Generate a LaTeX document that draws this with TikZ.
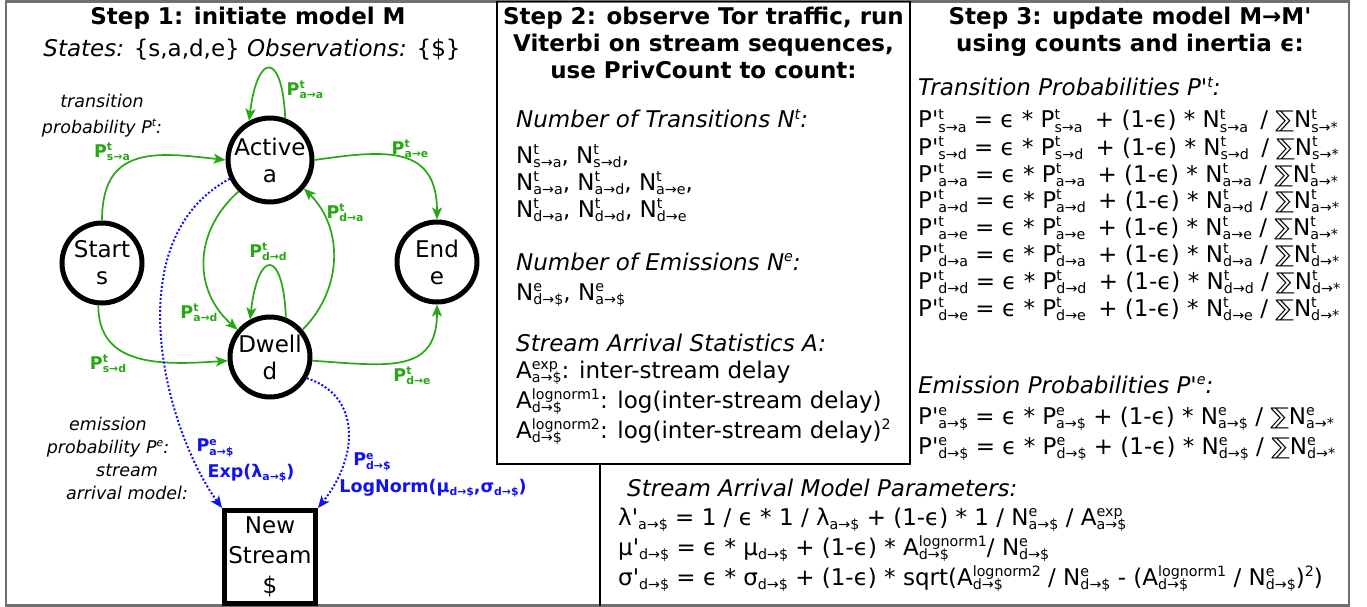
\documentclass[tikz,border=0pt]{standalone}
\usepackage{fontspec}
\setmainfont{DejaVu Sans}
\usetikzlibrary{arrows.meta}
\definecolor{grn}{RGB}{38,168,18}
\definecolor{blu}{RGB}{18,18,238}
\definecolor{frm}{RGB}{112,112,112}
\newcommand\pq{\textquotesingle}
\makeatletter
\newcommand\scrfont{\fontsize{\fpeval{0.62*\f@size}}{1}\selectfont}
% base with stacked superscript and subscript
\newcommand\tss[3]{#1\begingroup\dimen4=.36em\dimen6=.21em\scrfont
  \setbox0\hbox{#2}\setbox2\hbox{#3}%
  \dimen0=\wd0 \ifdim\wd2>\dimen0 \dimen0=\wd2\fi
  \rlap{\raise\dimen4\box0}\rlap{\lower\dimen6\box2}\kern\dimen0\endgroup}
% base with subscript only
\newcommand\tsb[2]{#1\begingroup\dimen6=.21em\scrfont\lower\dimen6\hbox{#2}\endgroup}
% base with superscript only
\newcommand\tsp[2]{#1\begingroup\dimen4=.36em\scrfont\raise\dimen4\hbox{#2}\endgroup}
\makeatother
\newcommand\dsum{⅀}
\tikzset{
  st/.style={circle,draw,line width=5pt,minimum size=80pt,inner sep=0pt,align=center,font=\fontsize{23}{27}\selectfont},
  sq/.style={rectangle,draw,line width=5pt,minimum width=91pt,minimum height=93pt,inner sep=0pt,align=center,font=\fontsize{23}{30}\selectfont},
  tr/.style={draw=grn,line width=1.7pt,-{Stealth[length=12pt,width=10pt,inset=3pt]}},
  em/.style={draw=blu,line width=2pt,dash pattern=on 2pt off 2pt,-{Stealth[length=12pt,width=10pt,inset=3pt]}},
  gl/.style={text=grn,inner sep=0pt,font=\bfseries\fontsize{17.5}{20}\selectfont},
  bl/.style={text=blu,inner sep=0pt,font=\bfseries\fontsize{17.5}{20}\selectfont},
  ttl/.style={anchor=base,inner sep=0pt,font=\bfseries\fontsize{23}{27}\selectfont},
  tx/.style={anchor=base west,inner sep=0pt,font=\fontsize{23}{27}\selectfont},
  nt/.style={anchor=base,inner sep=0pt,font=\itshape\fontsize{17.5}{21}\selectfont},
}
\begin{document}
\begin{tikzpicture}[x=1pt,y=-1pt]
\useasboundingbox (0,0) rectangle (1367,607);
% frames
\draw[frm,line width=2.5pt] (6,1.5) rectangle (1349,605.5);
\draw[black,line width=1.2pt] (497,1.5) rectangle (910,464);
\draw[black,line width=1.2pt] (600,464) -- (600,605.5);
% ---------- left panel
\node[ttl] (t1) at (248,25) {Step 1: initiate model M};
\node[tx,anchor=base] (t2) at (252,57) {\textit{States:} \{s,a,d,e\} \textit{Observations:} \{\$\}};
\node[nt] (tp1) at (102,108) {transition};
\node[nt] (tp2) at (102,133) {probability \tsp{P}{t}:};
\node[nt] (ep1) at (108,430) {emission};
\node[nt] (ep2) at (108,453) {probability \tsp{P}{e}:};
\node[nt] (ep3) at (127,476) {stream};
\node[nt] (ep4) at (127,499) {arrival model:};

\node[st] (S) at (102,263) {Start\\s};
\node[st] (A) at (270,160) {Active\\a};
\node[st] (E) at (437,262) {End\\e};
\node[st] (D) at (270,357) {Dwell\\d};
\node[sq] (NS) at (270,557) {New\\Stream\\\$};

\draw[tr] (S.north) .. controls +(0,-75) and +(-70,-8) .. (A.west);
\draw[tr] (A.70) .. controls +(-3,-68) and +(8,-68) .. (A.118);
\draw[tr] (A.east) .. controls +(70,-10) and +(0,-75) .. (E.north);
\draw[tr] (A.225) .. controls +(-45,40) and +(-45,-40) .. (D.140);
\draw[tr] (D.40) .. controls +(40,-40) and +(40,40) .. (A.320);
\draw[tr] (D.68) .. controls +(-3,-70) and +(8,-70) .. (D.118);
\draw[tr] (S.265) .. controls +(0,60) and +(-70,5) .. (D.185);
\draw[tr] (D.355) .. controls +(75,5) and +(0,70) .. (E.south);
\draw[em] (A.205) .. controls (115,240) and (165,430) .. (NS.north west);
\draw[em] (D.330) .. controls (360,395) and (360,455) .. (NS.north east);

\node[gl] (l1) at (112,152) {\tss{P}{t}{s→a}};
\node[gl] (l2) at (305,90) {\tss{P}{t}{a→a}};
\node[gl] (l3) at (410,149) {\tss{P}{t}{a→e}};
\node[gl] (l4) at (199,313) {\tss{P}{t}{a→d}};
\node[gl] (l5) at (345,213) {\tss{P}{t}{d→a}};
\node[gl] (l6) at (268,252) {\tss{P}{t}{d→d}};
\node[gl] (l7) at (108,364) {\tss{P}{t}{s→d}};
\node[gl] (l8) at (412,376) {\tss{P}{t}{d→e}};
\node[bl] (b1) at (215,448) {\tss{P}{e}{a→\$}};
\node[bl] (b2) at (251,473) {Exp(\tsb{λ}{a→\$})};
\node[bl] (b3) at (372,462) {\tss{P}{e}{d→\$}};
\node[bl] (b4) at (433,488) {LogNorm(\tsb{μ}{d→\$},\tsb{σ}{d→\$})};
% ---------- middle panel
\node[ttl] (m1) at (703.5,25) {Step 2: observe Tor traffic, run};
\node[ttl] (m2) at (703.5,52) {Viterbi on stream sequences,};
\node[ttl] (m3) at (703.5,79) {use PrivCount to count:};
\node[tx] (m4) at (516,128) {\textit{Number of Transitions \tsp{N}{t}:}};
\node[tx] (m5) at (516,163) {\tss{N}{t}{s→a}, \tss{N}{t}{s→d},};
\node[tx] (m6) at (516,190) {\tss{N}{t}{a→a}, \tss{N}{t}{a→d}, \tss{N}{t}{a→e},};
\node[tx] (m7) at (516,217) {\tss{N}{t}{d→a}, \tss{N}{t}{d→d}, \tss{N}{t}{d→e}};
\node[tx] (m8) at (516,270) {\textit{Number of Emissions \tsp{N}{e}:}};
\node[tx] (m9) at (516,300) {\tss{N}{e}{d→\$}, \tss{N}{e}{a→\$}};
\node[tx] (m10) at (516,351) {\textit{Stream Arrival Statistics A:}};
\node[tx] (m11) at (516,378) {\tss{A}{exp}{a→\$}: inter-stream delay};
\node[tx] (m12) at (516,408) {\tss{A}{lognorm1}{d→\$}: log(inter-stream delay)};
\node[tx] (m13) at (516,438) {\tss{A}{lognorm2}{d→\$}: log(inter-stream delay)\tsp{}{2}};
% ---------- right panel
\node[ttl] (r1) at (1130,25) {Step 3: update model M→M\pq};
\node[ttl] (r2) at (1130,52) {using counts and inertia ϵ:};
\node[tx] (r3) at (918,96) {\textit{Transition Probabilities \tsp{P\pq}{t}:}};
\node[tx] (r4) at (918,128) {\tss{P\pq}{t}{s→a} = ϵ * \tss{P}{t}{s→a}\hspace{5pt} + (1-ϵ) * \tss{N}{t}{s→a}\hspace{5pt} / \dsum\tss{N}{t}{s→*}};
\node[tx] (r5) at (918,155) {\tss{P\pq}{t}{s→d} = ϵ * \tss{P}{t}{s→d}\hspace{5pt} + (1-ϵ) * \tss{N}{t}{s→d}\hspace{5pt} / \dsum\tss{N}{t}{s→*}};
\node[tx] (r6) at (918,182) {\tss{P\pq}{t}{a→a} = ϵ * \tss{P}{t}{a→a}\hspace{5pt} + (1-ϵ) * \tss{N}{t}{a→a} / \dsum\tss{N}{t}{a→*}};
\node[tx] (r7) at (918,208) {\tss{P\pq}{t}{a→d} = ϵ * \tss{P}{t}{a→d}\hspace{5pt} + (1-ϵ) * \tss{N}{t}{a→d} / \dsum\tss{N}{t}{a→*}};
\node[tx] (r8) at (918,235) {\tss{P\pq}{t}{a→e} = ϵ * \tss{P}{t}{a→e}\hspace{5pt} + (1-ϵ) * \tss{N}{t}{a→e} / \dsum\tss{N}{t}{a→*}};
\node[tx] (r9) at (918,262) {\tss{P\pq}{t}{d→a} = ϵ * \tss{P}{t}{d→a}\hspace{5pt} + (1-ϵ) * \tss{N}{t}{d→a} / \dsum\tss{N}{t}{d→*}};
\node[tx] (r10) at (918,289) {\tss{P\pq}{t}{d→d} = ϵ * \tss{P}{t}{d→d}\hspace{5pt} + (1-ϵ) * \tss{N}{t}{d→d} / \dsum\tss{N}{t}{d→*}};
\node[tx] (r11) at (918,316) {\tss{P\pq}{t}{d→e} = ϵ * \tss{P}{t}{d→e}\hspace{5pt} + (1-ϵ) * \tss{N}{t}{d→e} / \dsum\tss{N}{t}{d→*}};
\node[tx] (r12) at (918,393) {\textit{Emission Probabilities \tsp{P\pq}{e}:}};
\node[tx] (r13) at (918,424) {\tss{P\pq}{e}{a→\$} = ϵ * \tss{P}{e}{a→\$} + (1-ϵ) * \tss{N}{e}{a→\$} / \dsum\tss{N}{e}{a→*}};
\node[tx] (r14) at (918,454) {\tss{P\pq}{e}{d→\$} = ϵ * \tss{P}{e}{d→\$} + (1-ϵ) * \tss{N}{e}{d→\$} / \dsum\tss{N}{e}{d→*}};
% ---------- bottom
\node[tx] (p1) at (627,496) {\textit{Stream Arrival Model Parameters:}};
\node[tx] (p2) at (618,525) {\tsb{λ\pq}{a→\$} = 1 / ϵ * 1 / \tsb{λ}{a→\$} + (1-ϵ) * 1 / \tss{N}{e}{a→\$} / \tss{A}{exp}{a→\$}};
\node[tx] (p3) at (618,555) {\tsb{μ\pq}{d→\$} = ϵ * \tsb{μ}{d→\$} + (1-ϵ) * \tss{A}{lognorm1}{d→\$}/ \tss{N}{e}{d→\$}};
\node[tx] (p4) at (618,585) {\tsb{σ\pq}{d→\$} = ϵ * \tsb{σ}{d→\$} + (1-ϵ) * sqrt(\tss{A}{lognorm2}{d→\$} / \tss{N}{e}{d→\$} - (\tss{A}{lognorm1}{d→\$} / \tss{N}{e}{d→\$})\tsp{}{2})};
\end{tikzpicture}
\end{document}
